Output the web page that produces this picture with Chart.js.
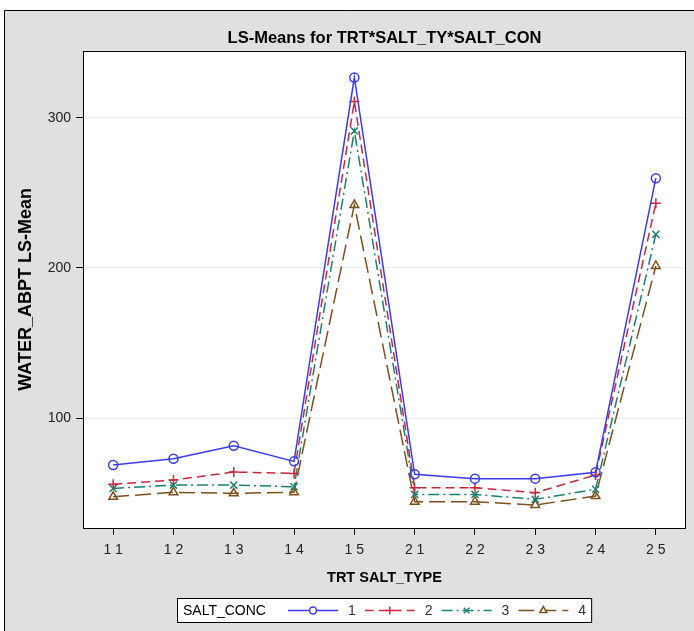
<!DOCTYPE html>
<html>
<head>
<meta charset="utf-8">
<title>LS-Means for TRT*SALT_TY*SALT_CON</title>
<script src="https://cdn.jsdelivr.net/npm/chart.js@4/dist/chart.umd.min.js"></script>
<style>
  body { margin: 0; background: #fff; }
  canvas { display: block; }
</style>
</head>
<body>
<canvas id="myChart" width="694" height="631"></canvas>
<script>
let ctx = document.getElementById('myChart')

const sans = "'Liberation Sans', Arial, sans-serif"

const trtSaltType = ['1 1', '1 2', '1 3', '1 4', '1 5', '2 1', '2 2', '2 3', '2 4', '2 5']
const conc1 = [68.7, 72.9, 81.5, 71.1, 326.9, 62.5, 59.6, 59.6, 63.8, 259.8]
const conc2 = [55.8, 58.7, 64.0, 63.1, 310.9, 53.6, 53.6, 50.2, 62.0, 243.1]
const conc3 = [53.1, 55.3, 55.3, 54.2, 291.3, 49.1, 49.1, 45.8, 52.5, 222.4]
const conc4 = [47.5, 50.5, 49.8, 50.5, 242.0, 44.2, 44.2, 42.0, 48.0, 201.3]
const concNames = ['1', '2', '3', '4']
const yTicks = [100, 200, 300]
const legendTitle = 'SALT_CONC'

const lineColors = ['#3b3bef', '#c8283c', '#1a8070', '#7d501e']
const dashes = [[], [9, 5], [11, 4, 2, 4], [16, 6]]
const markers = ['circle', 'cross', 'crossRot', 'triangle']

// grey frame + white plot box behind everything
const framePlugin = {
  id: 'frame',
  beforeDraw(chart) {
    const c = chart.ctx
    const a = chart.chartArea
    c.save()
    c.fillStyle = '#fff'
    c.fillRect(0, 0, chart.width, chart.height)
    c.fillStyle = '#e0e0e0'
    c.fillRect(4, 10, chart.width - 4, chart.height - 10)
    c.strokeStyle = '#000'
    c.lineWidth = 1
    c.beginPath()
    c.moveTo(4.5, chart.height)
    c.lineTo(4.5, 10.5)
    c.lineTo(chart.width, 10.5)
    c.stroke()
    c.fillStyle = '#fff'
    c.fillRect(a.left, a.top, a.right - a.left, a.bottom - a.top)
    c.restore()
  },
  afterDatasetsDraw(chart) {
    const c = chart.ctx
    const a = chart.chartArea
    c.save()
    c.strokeStyle = '#000'
    c.lineWidth = 1
    c.strokeRect(Math.round(a.left) + 0.5, Math.round(a.top) + 0.5, Math.round(a.right - a.left) - 1, Math.round(a.bottom - a.top))
    c.restore()
  }
}

// SAS style legend box under the x axis title
const legendPlugin = {
  id: 'sasLegend',
  afterDraw(chart) {
    const c = chart.ctx
    const top = 598, bottom = 622, left = 177
    const midY = (top + bottom) / 2
    c.save()
    c.font = '14px ' + sans
    c.textBaseline = 'middle'
    let x = 288
    const items = chart.data.datasets.map(ds => ({ ds, w: c.measureText(ds.label).width }))
    let right = x
    items.forEach(it => { right += 50 + 10 + it.w + 9 })
    right = right - 9 + 5
    c.fillStyle = '#fff'
    c.fillRect(left, top, right - left, bottom - top)
    c.strokeStyle = '#000'
    c.lineWidth = 1
    c.strokeRect(left + 0.5, top + 0.5, right - left, bottom - top)
    c.fillStyle = '#000'
    c.fillText(legendTitle, left + 6, midY + 1)
    items.forEach(it => {
      const ds = it.ds
      c.strokeStyle = ds.borderColor
      c.lineWidth = ds.borderWidth
      c.setLineDash(ds.borderDash)
      c.beginPath()
      c.moveTo(x, midY + 0.5)
      c.lineTo(x + 50, midY + 0.5)
      c.stroke()
      c.setLineDash([])
      c.fillStyle = '#fff'
      Chart.helpers.drawPoint(c, {
        pointStyle: ds.pointStyle,
        radius: ds.pointRadius - 1,
        borderWidth: ds.pointBorderWidth
      }, x + 25, midY + 0.5)
      c.fillStyle = '#333'
      c.fillText(ds.label, x + 60, midY + 1)
      x += 50 + 10 + it.w + 9
    })
    c.restore()
  }
}

const allSeries = [conc1, conc2, conc3, conc4]

let myChart = new Chart(ctx, {
  type: 'line',
  data: {
    labels: trtSaltType,
    datasets: allSeries.map((vals, i) => ({
      label: concNames[i],
      data: vals,
      borderColor: lineColors[i],
      backgroundColor: lineColors[i],
      borderWidth: 1.5,
      borderDash: dashes[i],
      tension: 0,
      fill: false,
      pointStyle: markers[i],
      pointRadius: i === 0 ? 4.5 : 5,
      pointBorderWidth: 1.5,
      pointBorderColor: lineColors[i],
      pointBackgroundColor: 'transparent'
    }))
  },
  options: {
    responsive: false,
    animation: false,
    layout: { padding: { left: 0, top: 10, right: 8, bottom: 0 } },
    plugins: {
      legend: { display: false },
      tooltip: { enabled: false },
      title: {
        display: true,
        fullSize: false,
        text: 'LS-Means for TRT*SALT_TY*SALT_CON',
        color: '#000',
        font: { family: sans, size: 16.5, weight: 'bold' },
        padding: { top: 19, bottom: 2 }
      }
    },
    scales: {
      x: {
        offset: true,
        grid: { drawOnChartArea: false, drawTicks: true, tickLength: 7, tickColor: '#000' },
        border: { display: false },
        ticks: { color: '#222', padding: 7, font: { family: sans, size: 14 }, maxRotation: 0 },
        title: {
          display: true,
          text: 'TRT SALT_TYPE',
          color: '#000',
          font: { family: sans, size: 14.5, weight: 'bold' },
          padding: { top: 0, bottom: 44 }
        },
        afterFit(scale) { scale.height = 103 }
      },
      y: {
        min: 26.7,
        max: 344.7,
        grid: { color: '#ebebeb', lineWidth: 1, tickLength: 7, tickColor: '#000' },
        border: { display: false },
        ticks: { color: '#222', padding: 5, font: { family: sans, size: 14 } },
        afterBuildTicks(scale) {
          scale.ticks = yTicks.map(v => ({ value: v }))
        },
        title: {
          display: true,
          text: 'WATER_ABPT LS-Mean',
          color: '#000',
          font: { family: sans, size: 18, weight: 'bold' },
          padding: { top: 15, bottom: 0 }
        },
        afterFit(scale) { scale.width = 83 }
      }
    }
  },
  plugins: [framePlugin, legendPlugin]
})
</script>
</body>
</html>
